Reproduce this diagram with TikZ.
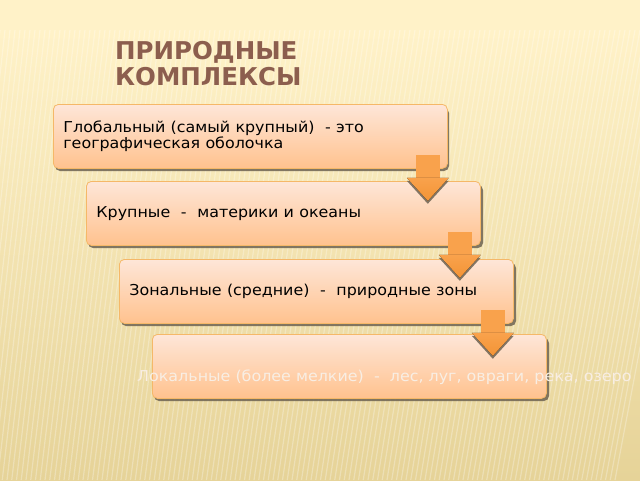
\documentclass[tikz,border=0pt]{standalone}
\usepackage{fontspec}
\setmainfont{DejaVu Sans}
\usetikzlibrary{calc}
\definecolor{bgtop}{HTML}{FFF2C8}
\definecolor{bgbot}{HTML}{E6D398}
\definecolor{titlec}{HTML}{8C5E4E}
\definecolor{boxtop}{HTML}{FEE6D8}
\definecolor{boxbot}{HTML}{FFC28E}
\definecolor{boxline}{HTML}{F5B868}
\definecolor{shadowc}{HTML}{6E6352}
\definecolor{arrowc}{HTML}{F9A24C}
\definecolor{arrowd}{HTML}{F39436}
\definecolor{pale}{HTML}{F8EEE4}
\newcommand{\wtext}[1]{\scalebox{1.06}[1]{#1}}
\tikzset{
  stagebox/.style={draw=boxline, line width=0.8pt, rounded corners=5pt,
    top color=boxtop, bottom color=boxbot, minimum width=394pt, minimum height=64pt,
    anchor=north west, inner xsep=10pt, text width=374pt, align=left,
    font=\fontsize{15}{16}\selectfont, text=black},
  boxshadow/.style={fill=shadowc, rounded corners=5pt, opacity=0.85},
  pics/downarrow/.style={code={
    \fill[shadowc, opacity=0.85] (-21,12) -- (21,12) -- (0,35) -- cycle;
    \fill[arrowc] (-12,-14) rectangle (12,10);
    \fill[top color=arrowc, bottom color=arrowd] (-21,9) -- (21,9) -- (0,32) -- cycle;
  }}
}
\begin{document}
\begin{tikzpicture}[x=1pt,y=-1pt]
\useasboundingbox (0,0) rectangle (640,480);
% background
\fill[bgtop] (0,0) rectangle (640,30);
\shade[top color=bgtop, bottom color=bgbot] (0,30) rectangle (640,480);
\begin{scope}
\clip (0,30) rectangle (640,480);
\foreach \i in {0,5,...,700} {
  \draw[white, opacity=0.28, line width=1.2pt] (\i,30) -- (\i-50-\i*0.05,480);
}
\end{scope}
% title
\node[anchor=base west, align=left, text=titlec, font=\bfseries\fontsize{24.5}{26}\selectfont, inner sep=0pt] (title) at (115,85) {ПРИРОДНЫЕ\\КОМПЛЕКСЫ};
% boxes shadows
\fill[boxshadow] (55,108) rectangle (449,171);
\fill[boxshadow] (88,185) rectangle (483,248);
\fill[boxshadow] (121,263) rectangle (516,326);
\fill[boxshadow] (154,338) rectangle (549,401);
% boxes
\node[stagebox] (b1) at (53,104) {\wtext{Глобальный (самый крупный)~ - это}\\\wtext{географическая оболочка}};
\node[stagebox] (b2) at (86,181) {\wtext{Крупные ~-~ материки и океаны}};
\pic at ($(b1.south east)+(-20,0)$) {downarrow};
\node[stagebox] (b3) at (119,259) {\wtext{Зональные (средние) ~-~ природные зоны}};
\pic at ($(b2.south east)+(-21,0)$) {downarrow};
\node[stagebox] (b4) at (152,334) {};
\pic at ($(b3.south east)+(-21,0)$) {downarrow};
\node[anchor=base west, inner sep=0pt, text=pale, font=\fontsize{15}{16}\selectfont] (t4) at (137,381) {\wtext{Локальные (более мелкие) ~-~ лес, луг, овраги, река, озеро}};
\end{tikzpicture}
\end{document}
